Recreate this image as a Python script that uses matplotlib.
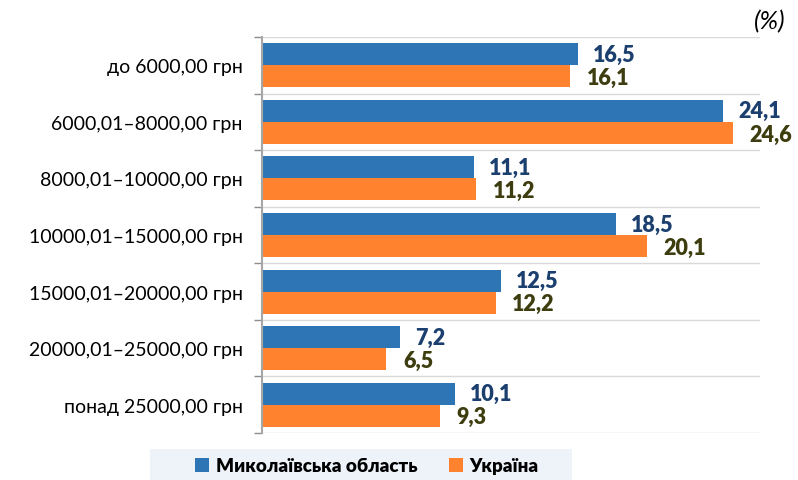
import numpy as np
import matplotlib.pyplot as plt
from matplotlib.patches import Rectangle

plt.rcParams['font.family'] = ['Lato', 'DejaVu Sans']

categories = ['до 6000,00 грн', '6000,01–8000,00 грн', '8000,01–10000,00 грн',
              '10000,01–15000,00 грн', '15000,01–20000,00 грн',
              '20000,01–25000,00 грн', 'понад 25000,00 грн']
oblast = [16.5, 24.1, 11.1, 18.5, 12.5, 7.2, 10.1]
ukraine = [16.1, 24.6, 11.2, 20.1, 12.2, 6.5, 9.3]

blue = '#2E75B6'
orange = '#FF832F'

fig = plt.figure(figsize=(7.98, 4.81), dpi=100)
ax = fig.add_axes([0.3283, 0.0977, 0.952 - 0.3283, 0.921 - 0.0977])

y = np.arange(len(categories))
h = 0.39
ax.barh(y - h / 2, oblast, height=h, color=blue, label='Миколаївська область')
ax.barh(y + h / 2, ukraine, height=h, color=orange, label='Україна')

for yi, v in zip(y, oblast):
    ax.text(v + 0.78, yi - h / 2, f'{v:.1f}'.replace('.', ','), va='center', ha='left',
            fontsize=15.5, fontweight='heavy', color='#1B3F6E')
for yi, v in zip(y, ukraine):
    ax.text(v + 0.88, yi + h / 2 + 0.02, f'{v:.1f}'.replace('.', ','), va='center', ha='left',
            fontsize=15.5, fontweight='heavy', color='#3D3D10')

ax.set_xlim(0, 26)
ax.set_ylim(len(categories) - 0.5, -0.5)
ax.set_xticks([])
ax.set_yticks(y)
ax.set_yticklabels(categories, fontsize=14)
ax.tick_params(axis='y', length=0, pad=14)
ax.set_yticks(np.arange(-0.5, len(categories)), minor=True)
ax.tick_params(axis='y', which='minor', length=6, color='#8c8c8c', width=1)
ax.grid(axis='y', which='minor', color='#d9d9d9', linewidth=1)
ax.set_axisbelow(True)
for s in ['top', 'right', 'bottom']:
    ax.spines[s].set_visible(False)
ax.spines['left'].set_color('#a6a6a6')
ax.spines['left'].set_linewidth(1.5)

fig.text(0.985, 0.955, '(%)', ha='right', va='center', fontsize=18, style='italic')

# legend background band
fig.patches.append(Rectangle((150 / 798, 0), 422 / 798, 31 / 481, transform=fig.transFigure,
                             facecolor='#EEF3FA', edgecolor='none', zorder=0))
fig.legend(loc='center', bbox_to_anchor=(367 / 798, 1 - 467 / 481), ncol=2, frameon=False,
           prop={'weight': 'heavy', 'size': 13.5}, handlelength=0.75, handleheight=0.75,
           handletextpad=0.35, columnspacing=1.7)

fig.savefig('out.png', dpi=100)
